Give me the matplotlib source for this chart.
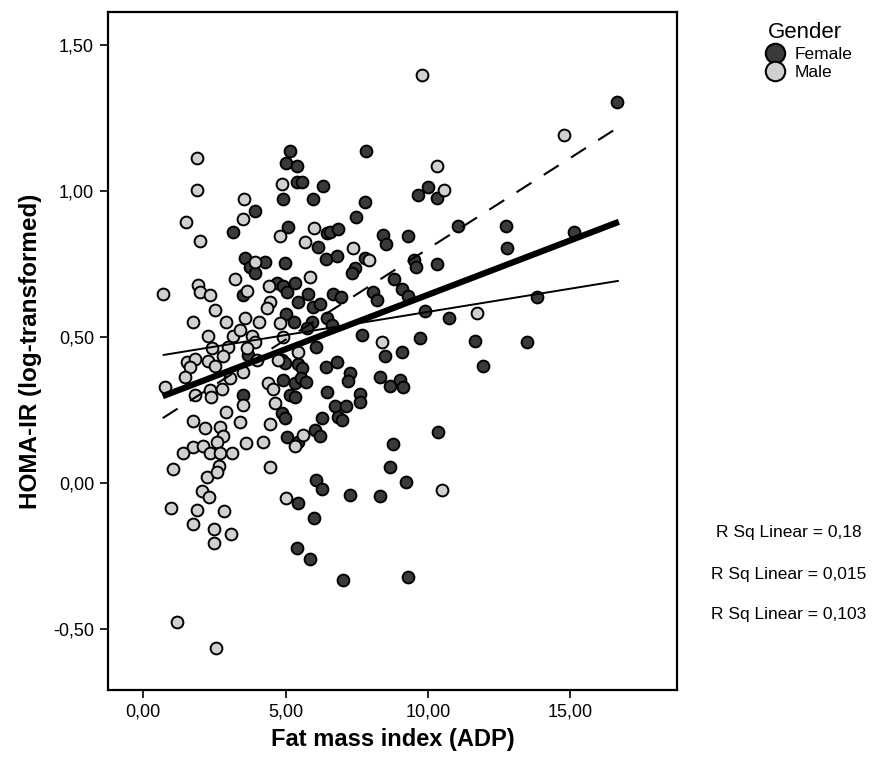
import matplotlib
matplotlib.use("Agg")
import matplotlib.pyplot as plt
import numpy as np
from matplotlib.lines import Line2D

plt.rcParams['font.family'] = ['Liberation Sans', 'DejaVu Sans']

# ---------------- data ----------------
female_x = [3.93, 3.15, 3.58, 4.28, 3.75, 3.93, 3.52, 4.69, 5.16, 7.82, 5.02, 5.41, 5.41, 5.58, 6.31,
            9.65, 10.0, 4.90, 5.98, 7.80, 7.46, 5.10, 6.45, 6.56, 6.85, 8.43, 8.53, 9.31, 6.15, 6.41,
            6.80, 7.79, 7.44, 7.32, 9.52, 9.58, 4.98, 4.90, 5.06, 5.33, 5.78, 6.66, 6.95, 8.08, 8.82,
            9.10, 9.31, 16.64, 10.33, 11.04, 12.74, 12.78, 15.12, 10.33, 13.81, 3.69, 3.50, 4.87, 4.98,
            5.04, 4.92, 5.45, 5.98, 6.21, 8.20, 9.89, 5.02, 5.30, 5.92, 6.45, 6.62, 5.74, 7.67, 9.72,
            6.07, 4.87, 4.98, 5.45, 5.57, 6.41, 6.80, 8.49, 9.08, 7.26, 7.20, 5.33, 5.53, 5.72, 8.32,
            8.67, 9.02, 9.13, 6.45, 5.16, 5.33, 7.61, 7.61, 6.74, 7.11, 6.27, 6.85, 6.97, 6.04, 6.21,
            5.45, 8.78, 8.67, 10.75, 11.65, 13.48, 11.92, 10.36, 5.45, 6.07, 6.27, 7.26, 8.32, 9.22,
            6.01, 5.41, 5.86, 7.01, 9.31]
female_y = [0.933, 0.859, 0.770, 0.758, 0.741, 0.720, 0.644, 0.684, 1.137, 1.137, 1.095, 1.087, 1.031,
            1.031, 1.017, 0.987, 1.015, 0.972, 0.972, 0.962, 0.910, 0.876, 0.857, 0.861, 0.869, 0.849,
            0.818, 0.847, 0.807, 0.766, 0.778, 0.772, 0.735, 0.718, 0.764, 0.740, 0.752, 0.676, 0.653,
            0.685, 0.647, 0.647, 0.638, 0.654, 0.698, 0.663, 0.641, 1.304, 0.977, 0.879, 0.879, 0.804,
            0.859, 0.749, 0.636, 0.438, 0.301, 0.239, 0.222, 0.159, 0.353, 0.619, 0.604, 0.612, 0.627,
            0.589, 0.579, 0.550, 0.550, 0.564, 0.541, 0.530, 0.507, 0.496, 0.465, 0.421, 0.412, 0.408,
            0.393, 0.398, 0.415, 0.435, 0.450, 0.376, 0.350, 0.341, 0.361, 0.347, 0.362, 0.332, 0.353,
            0.328, 0.311, 0.301, 0.296, 0.305, 0.278, 0.264, 0.264, 0.222, 0.227, 0.216, 0.182, 0.162,
            0.141, 0.134, 0.056, 0.564, 0.487, 0.484, 0.401, 0.176, -0.067, 0.010, -0.022, -0.041,
            -0.043, 0.004, -0.121, -0.224, -0.261, -0.332, -0.323]

male_x = [1.88, 1.88, 3.54, 3.50, 1.51, 2.00, 4.89, 4.81, 3.93, 1.94, 3.23, 0.69, 2.00, 2.35, 3.64,
          4.43, 6.01, 5.68, 7.38, 7.93, 5.86, 9.78, 14.78, 10.33, 10.56, 2.53, 1.76, 2.91, 2.29, 3.17,
          3.58, 4.07, 3.40, 3.81, 3.93, 4.46, 4.34, 4.92, 4.81, 2.41, 2.99, 3.64, 1.53, 1.82, 1.65,
          2.29, 2.53, 2.82, 1.47, 0.77, 3.05, 3.52, 3.99, 4.75, 1.82, 2.35, 2.76, 2.39, 3.52, 2.91,
          1.76, 3.40, 2.18, 2.70, 4.46, 4.63, 4.40, 4.57, 2.82, 2.59, 1.74, 2.12, 1.41, 2.35, 2.70,
          3.11, 3.61, 4.22, 1.04, 2.68, 4.46, 5.45, 8.40, 5.62, 5.33, 11.73, 2.24, 2.59, 2.06, 2.33,
          0.97, 1.91, 2.85, 5.01, 1.76, 2.49, 3.08, 2.50, 1.20, 2.56, 10.48]
male_y = [1.114, 1.003, 0.974, 0.905, 0.894, 0.829, 1.023, 0.847, 0.758, 0.678, 0.698, 0.647, 0.655,
          0.644, 0.658, 0.676, 0.874, 0.825, 0.804, 0.764, 0.705, 1.397, 1.193, 1.086, 1.003, 0.592,
          0.550, 0.550, 0.504, 0.504, 0.564, 0.550, 0.524, 0.504, 0.484, 0.621, 0.598, 0.501, 0.547,
          0.461, 0.467, 0.461, 0.415, 0.424, 0.398, 0.418, 0.401, 0.435, 0.364, 0.330, 0.359, 0.381,
          0.421, 0.421, 0.301, 0.318, 0.322, 0.293, 0.267, 0.242, 0.213, 0.208, 0.187, 0.193, 0.202,
          0.273, 0.341, 0.321, 0.162, 0.141, 0.124, 0.127, 0.102, 0.102, 0.102, 0.102, 0.136, 0.139,
          0.047, 0.059, 0.056, 0.450, 0.483, 0.164, 0.127, 0.583, 0.022, 0.039, -0.026, -0.049,
          -0.087, -0.092, -0.096, -0.052, -0.140, -0.159, -0.176, -0.204, -0.477, -0.564, -0.024]

# fit lines (intercept, slope) for Female, Male, Total; x-range of data
fit_names = ["Female", "Male", "Total"]
fit_intercept = [0.179, 0.427, 0.2715]
fit_slope = [0.0623, 0.0159, 0.0373]
fit_xrange = [0.69, 16.70]
rsq_labels = ["R Sq Linear = 0,18", "R Sq Linear = 0,015", "R Sq Linear = 0,103"]

x_ticks = [0, 5, 10, 15]
x_ticklabels = ["0,00", "5,00", "10,00", "15,00"]
y_ticks = [-0.5, 0.0, 0.5, 1.0, 1.5]
y_ticklabels = ["-0,50", "0,00", "0,50", "1,00", "1,50"]

# ---------------- figure ----------------
W, H = 877, 762
fig = plt.figure(figsize=(W / 100, H / 100), dpi=100)
ax = fig.add_axes([108 / W, 1 - 690 / H, (677 - 108) / W, (690 - 12) / H])

female_color = "#3a3a3a"
male_color = "#d0d0d0"
msize = 72

ax.scatter(female_x, female_y, s=msize, c=female_color, edgecolors="black", linewidths=1.4, zorder=2)
ax.scatter(male_x, male_y, s=msize, c=male_color, edgecolors="black", linewidths=1.4, zorder=2)

xs = np.array(fit_xrange)
styles = [dict(lw=1.5, ls=(0, (8.5, 7.0))), dict(lw=1.4, ls="-"), dict(lw=4.5, ls="-")]
for a, b, st in zip(fit_intercept, fit_slope, styles):
    ax.plot(xs, a + b * xs, color="black", solid_capstyle="butt", zorder=3, **st)

ax.set_xlim(-1.23, 18.74)
ax.set_ylim(-0.709, 1.613)
ax.set_xticks(x_ticks)
ax.set_xticklabels(x_ticklabels)
ax.set_yticks(y_ticks)
ax.set_yticklabels(y_ticklabels)
ax.tick_params(direction="out", length=6, width=1.2, labelsize=13, colors="black", pad=4)
for sp in ax.spines.values():
    sp.set_linewidth(1.6)

ax.set_xlabel("Fat mass index (ADP)", fontsize=17, fontweight="bold", labelpad=5)
ax.set_ylabel("HOMA-IR (log-transformed)", fontsize=17.5, fontweight="bold", labelpad=8)

# legend
handles = [
    Line2D([], [], marker="o", ls="", markersize=14, markerfacecolor=female_color,
           markeredgecolor="black", markeredgewidth=1.5),
    Line2D([], [], marker="o", ls="", markersize=14, markerfacecolor=male_color,
           markeredgecolor="black", markeredgewidth=1.5),
]
leg = fig.legend(handles, ["Female", "Male"], title="Gender", loc="upper left",
                 bbox_to_anchor=(745 / W, 1 - 10 / H), frameon=False, fontsize=12.5,
                 title_fontsize=16, handletextpad=0.15, labelspacing=0.2, borderpad=0.2)

# R-squared annotations
for i, txt in enumerate(rsq_labels):
    fig.text(789 / W, 1 - (533 + 41 * i) / H, txt, ha="center", va="center", fontsize=12.5)

fig.savefig("out.png", dpi=100)
